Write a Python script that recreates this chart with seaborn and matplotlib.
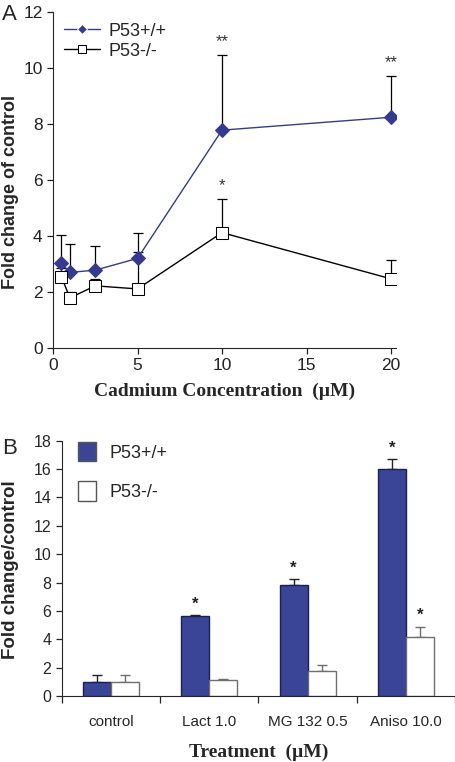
import matplotlib
matplotlib.use("Agg")
import matplotlib.pyplot as plt
import seaborn as sns
import numpy as np
import pandas as pd

# panel A data
cd_conc = [0.5, 1, 2.5, 5, 10, 20]
wt_mean = [3.02, 2.70, 2.78, 3.20, 7.78, 8.24]
wt_err = [1.01, 1.03, 0.86, 0.89, 2.68, 1.47]
ko_mean = [2.54, 1.79, 2.22, 2.11, 4.12, 2.47]
ko_err = [0.30, 0.20, 0.26, 1.32, 1.20, 0.67]

# panel B data
treatments = ["control", "Lact 1.0", "MG 132 0.5", "Aniso 10.0"]
wt_bar = [0.97, 5.62, 7.83, 16.0]
wt_bar_err = [0.51, 0.06, 0.42, 0.70]
ko_bar = [0.97, 1.13, 1.76, 4.18]
ko_bar_err = [0.49, 0.05, 0.40, 0.71]

sns.set_style("ticks")
plt.rcParams["font.family"] = ["Liberation Sans", "DejaVu Sans"]

BLUE_LINE = "#353a8e"
BLUE_BAR = "#3a4597"

fig = plt.figure(figsize=(4.55, 7.62), dpi=100)
axA = fig.add_axes([0.1165, 0.5433, 0.754, 0.441])
axB = fig.add_axes([0.136, 0.0866, 0.864, 0.335])

# ---- panel A
dfA = pd.DataFrame({
    "conc": cd_conc * 2,
    "fold": wt_mean + ko_mean,
    "genotype": ["P53+/+"] * 6 + ["P53-/-"] * 6,
})
sns.lineplot(data=dfA, x="conc", y="fold", hue="genotype", style="genotype",
             markers={"P53+/+": "D", "P53-/-": "s"}, dashes=False,
             palette={"P53+/+": BLUE_LINE, "P53-/-": "black"},
             linewidth=1.0, markersize=8, ax=axA, zorder=3)
data_lines = [ln for ln in axA.lines if len(ln.get_ydata()) == 6]
for line in data_lines:
    if np.allclose(line.get_ydata(), ko_mean):
        line.set_markerfacecolor("white")
        line.set_markeredgecolor("black")
        line.set_markersize(9)
    else:
        line.set_markerfacecolor(BLUE_LINE)
        line.set_markeredgecolor(BLUE_LINE)
        line.set_markersize(7)

axA.errorbar(cd_conc, wt_mean, yerr=[np.zeros(6), wt_err], fmt="none",
             ecolor="black", elinewidth=0.9, capsize=3.5, capthick=0.9, zorder=1)
axA.errorbar(cd_conc, ko_mean, yerr=[np.zeros(6), ko_err], fmt="none",
             ecolor="black", elinewidth=0.9, capsize=3.5, capthick=0.9, zorder=1)

for x, y, s in [(10, wt_mean[4] + wt_err[4], "**"), (20, wt_mean[5] + wt_err[5], "**"),
                (10, ko_mean[4] + ko_err[4], "*")]:
    axA.text(x, y + 0.2, s, ha="center", va="bottom", fontsize=12, color="#333333")

axA.set_xlim(0, 20.3)
axA.set_ylim(0, 12)
axA.set_xticks([0, 5, 10, 15, 20])
axA.set_yticks([0, 2, 4, 6, 8, 10, 12])
axA.tick_params(labelsize=12.5, length=4, width=0.9, colors="#222222")
axA.spines["right"].set_visible(False)
axA.spines["top"].set_visible(False)
axA.set_xlabel("Cadmium Concentration  (\u00b5M)", fontsize=14, fontweight="bold",
               family=["Liberation Serif", "DejaVu Serif"], labelpad=7)
axA.set_ylabel("Fold change of control", fontsize=13, fontweight="bold")
axA.yaxis.set_label_coords(-0.100, 0.464)
legA = axA.legend(loc="upper left", frameon=False, fontsize=13, handlelength=2.0,
                  borderaxespad=0.2, handletextpad=0.5, labelspacing=0.15,
                  bbox_to_anchor=(0.0, 1.0))
for h in legA.legend_handles:
    if h.get_label() == "P53-/-":
        h.set_markerfacecolor("white")
        h.set_markeredgecolor("black")
        h.set_markersize(6)
    else:
        h.set_markersize(5)
fig.text(0.005, 0.995, "A", fontsize=16, va="top")

# ---- panel B
dfB = pd.DataFrame({
    "treatment": treatments * 2,
    "fold": wt_bar + ko_bar,
    "genotype": ["P53+/+"] * 4 + ["P53-/-"] * 4,
})
sns.barplot(data=dfB, x="treatment", y="fold", hue="genotype",
            palette={"P53+/+": BLUE_BAR, "P53-/-": "white"}, saturation=1,
            width=0.57, gap=0, errorbar=None, ax=axB, zorder=2)
bars = axB.patches[:8]
for i, p in enumerate(bars):
    if i < 4:
        p.set_edgecolor("#1c1f50")
    else:
        p.set_edgecolor("#6e6e6e")
    p.set_linewidth(1.0)

wt_x = [bars[i].get_x() + bars[i].get_width() / 2 for i in range(4)]
ko_x = [bars[i].get_x() + bars[i].get_width() / 2 for i in range(4, 8)]
axB.errorbar(wt_x, wt_bar, yerr=[np.zeros(4), wt_bar_err], fmt="none",
             ecolor="#222222", elinewidth=1.0, capsize=3.5, capthick=1.0, zorder=1)
axB.errorbar(ko_x, ko_bar, yerr=[np.zeros(4), ko_bar_err], fmt="none",
             ecolor="#6e6e6e", elinewidth=1.0, capsize=3.5, capthick=1.0, zorder=1)
for i in [1, 2, 3]:
    axB.text(wt_x[i], wt_bar[i] + wt_bar_err[i] + 0.25, "*", ha="center",
             va="bottom", fontsize=12, fontweight="bold", color="#222222")
axB.text(ko_x[3], ko_bar[3] + ko_bar_err[3] + 0.25, "*", ha="center",
         va="bottom", fontsize=12, fontweight="bold", color="#222222")

axB.set_xlim(-0.5, 3.5)
axB.set_ylim(0, 18)
axB.set_yticks(range(0, 19, 2))
axB.set_xticks([-0.5, 0.5, 1.5, 2.5, 3.5], minor=True)
axB.tick_params(axis="x", which="major", length=0, labelsize=11, pad=14)
axB.tick_params(axis="x", which="minor", length=5, width=0.9)
axB.tick_params(axis="y", labelsize=11.5, length=4, width=0.9)
axB.spines["right"].set_visible(False)
axB.spines["top"].set_visible(False)
axB.set_xlabel("Treatment  (\u00b5M)", fontsize=14, fontweight="bold",
               family=["Liberation Serif", "DejaVu Serif"], labelpad=10)
axB.set_ylabel("Fold change/control", fontsize=13.5, fontweight="bold")
axB.yaxis.set_label_coords(-0.109, 0.494)
legB = axB.legend(loc="upper left", frameon=False, fontsize=13, handlelength=1.0,
                  handleheight=1.3, bbox_to_anchor=(0.0, 1.06), labelspacing=1.1,
                  handletextpad=0.75)
for h in legB.legend_handles:
    h.set_edgecolor("#555555")
fig.text(0.005, 0.425, "B", fontsize=16, va="top")

fig.savefig("out.png", dpi=100)
